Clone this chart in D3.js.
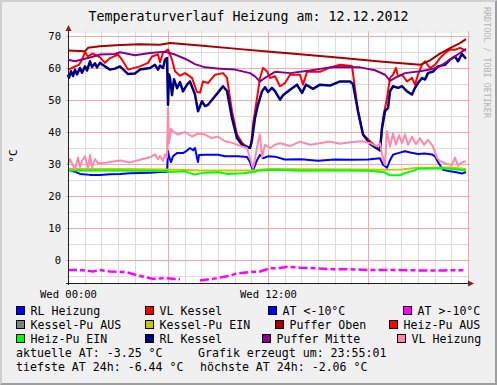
<!DOCTYPE html>
<html>
<head>
<meta charset="utf-8">
<script src="https://cdn.jsdelivr.net/npm/d3@7"></script>
<style>
body{margin:0;padding:0;background:#fff;}
text{font-family:"DejaVu Sans Mono",monospace;}
</style>
</head>
<body>
<div id="plotdiv"></div>
<script>
var title = "Temperaturverlauf Heizung am: 12.12.2012";
var yTicks = [0,10,20,30,40,50,60,70];
var xTicks = [0,12];
var xTickLabels = ["Wed 00:00","Wed 12:00"];

// [Stunde, °C]
var rlHeizung = [[0,28.2],[0.42,27.6],[0.72,26.9],[1.32,26.6],[1.92,26.6],[2.52,26.8],[3.12,26.9],[3.72,27.1],[4.32,27.2],[4.92,27.3],[5.52,27.5],[5.94,27.6],[6.0,34.0],[6.06,32.4],[6.18,30.6],[6.3,32.4],[6.54,33.4],[6.9,33.4],[7.14,34.2],[7.32,35.0],[7.5,34.3],[7.62,35.0],[7.74,31.9],[7.8,30.6],[7.86,32.8],[8.22,32.9],[9.0,32.9],[9.42,32.4],[10.2,32.4],[10.74,32.2],[10.92,30.6],[11.1,27.9],[11.34,31.2],[11.52,32.9],[11.7,31.8],[12.0,32.4],[12.42,32.3],[13.0,31.4],[14.0,31.5],[15.0,31.0],[16.0,31.4],[17.0,31.3],[18.0,31.4],[18.72,31.8],[18.9,29.8],[19.14,28.8],[19.32,31.2],[19.5,32.9],[19.8,33.4],[20.22,34.0],[20.6,33.5],[21.0,33.1],[21.4,33.3],[21.84,33.0],[22.02,32.4],[22.2,30.6],[22.5,28.2],[22.92,27.7],[23.3,27.4],[23.64,27.0],[23.88,27.5]];

var vlKessel = [[0,59.5],[0.24,60.0],[0.42,60.5],[0.66,61.0],[0.84,62.6],[1.02,65.0],[1.2,63.6],[1.44,64.5],[1.62,64.2],[1.92,63.3],[2.22,61.6],[2.52,63.1],[3.0,64.2],[3.24,62.6],[3.6,59.5],[4.32,60.5],[4.8,61.6],[5.04,63.6],[5.4,64.2],[5.52,61.8],[5.7,64.7],[6.0,65.8],[6.24,62.6],[6.42,59.0],[6.72,57.6],[7.02,58.4],[7.44,56.9],[7.74,52.5],[7.92,52.3],[8.1,55.8],[8.4,55.3],[8.82,57.9],[9.3,58.4],[9.54,56.9],[9.84,46.5],[10.14,39.2],[10.44,36.6],[10.8,35.0],[10.98,35.6],[11.1,42.3],[11.34,50.6],[11.52,56.9],[11.7,60.0],[11.94,59.0],[12.12,56.9],[12.42,57.4],[12.72,54.3],[13.02,55.3],[13.32,57.9],[13.92,57.9],[14.1,54.8],[14.34,58.8],[15.12,58.8],[15.6,59.9],[16.32,61.0],[17.04,60.6],[17.4,46.5],[17.7,39.2],[18.12,37.1],[18.72,34.4],[18.9,44.4],[19.14,50.6],[19.32,56.9],[19.5,57.9],[19.68,60.0],[19.8,57.4],[20.04,57.9],[20.34,55.8],[20.64,56.9],[20.82,54.8],[21.0,57.9],[21.24,61.0],[21.42,62.1],[21.72,60.0],[22.02,61.0],[22.32,63.1],[22.62,64.7],[22.92,65.7],[23.22,65.7],[23.52,66.3],[23.88,65.4]];

var atHoch = [[0,-3.1],[0.9,-3.2],[1.5,-3.6],[1.92,-3.1],[2.52,-3.6],[3.5,-3.8],[4.1,-4.7],[4.7,-5.4],[5.1,-5.9],[5.9,-5.7],[6.72,-6.0],[6.82,null],[7.92,-6.4],[8.92,-5.7],[9.72,-4.9],[10.12,-4.2],[10.92,-3.8],[11.52,-3.6],[12.12,-2.6],[12.72,-2.5],[13.22,-2.1],[13.92,-2.4],[14.92,-2.6],[15.92,-2.9],[16.92,-2.9],[17.92,-3.1],[19.92,-3.1],[20.92,-3.25],[22.5,-3.25],[23.72,-3.2]];

var kesselPuEin = [[0,28.4],[3,28.4],[6,28.3],[8,28.0],[11,28.0],[12,28.4],[18,28.3],[19,28.2],[20,28.3],[21,28.8],[23,28.9],[23.88,28.4]];

var pufferOben = [[0,65.5],[0.72,65.3],[1.02,65.2],[1.2,66.3],[1.92,66.8],[3.12,67.2],[4.32,67.4],[5.52,67.3],[6.12,67.8],[7.92,67.0],[10.32,65.9],[12.12,65.1],[13.92,64.3],[16.32,63.2],[18.72,62.0],[21.12,61.0],[21.72,62.4],[22.32,64.5],[22.92,66.2],[23.52,67.8],[23.88,69.0]];

var heizPuEin = [[0,28.0],[2,28.0],[4,27.9],[5.9,27.8],[6.1,27.5],[7.0,27.7],[7.6,26.7],[8.2,27.3],[9.0,27.4],[9.6,26.9],[10.5,27.1],[11.2,27.6],[11.5,28.0],[12.5,28.2],[14,27.9],[16,28.0],[18,27.9],[19.0,27.4],[19.3,26.5],[19.9,26.5],[20.3,27.3],[20.8,28.0],[21.0,28.5],[22,28.6],[22.6,28.7],[23.3,28.3],[23.88,28.0]];

var rlKessel = [[0,57.9],[0.06,56.9],[0.18,59.0],[0.3,57.5],[0.42,59.5],[0.54,58.0],[0.72,60.0],[0.84,58.5],[1.02,60.5],[1.14,59.2],[1.32,62.1],[1.44,60.3],[1.62,61.5],[1.74,60.2],[1.92,61.6],[2.22,60.5],[2.52,59.5],[2.82,59.8],[3.12,60.5],[3.42,59.0],[3.6,58.1],[4.02,58.3],[4.32,59.5],[4.92,60.0],[5.22,61.0],[5.4,59.5],[5.52,60.8],[5.7,60.0],[5.82,62.6],[5.94,63.1],[6.0,48.5],[6.06,58.0],[6.12,56.9],[6.24,51.5],[6.36,56.5],[6.54,53.7],[6.72,55.6],[6.9,52.7],[7.14,54.8],[7.32,55.8],[7.62,51.7],[7.8,46.5],[8.04,49.6],[8.22,48.1],[8.4,48.5],[8.82,51.2],[9.0,52.3],[9.3,54.3],[9.54,52.8],[9.84,44.4],[10.14,38.1],[10.44,36.0],[10.92,35.0],[11.04,37.5],[11.22,44.4],[11.4,48.5],[11.64,52.7],[11.82,54.0],[12.0,52.5],[12.24,53.8],[12.42,52.8],[12.72,50.1],[12.9,51.5],[13.32,53.2],[13.74,54.8],[14.04,52.2],[14.28,54.8],[14.7,53.5],[15.12,54.8],[15.72,54.5],[16.32,55.8],[16.92,55.8],[17.1,55.0],[17.4,46.5],[17.7,39.2],[18.12,36.3],[18.72,34.2],[18.84,41.2],[19.02,46.5],[19.2,47.5],[19.32,52.7],[19.5,54.3],[19.8,53.8],[20.04,54.3],[20.34,52.7],[20.64,51.7],[20.82,53.8],[21.0,55.3],[21.24,56.9],[21.42,56.4],[21.6,58.4],[21.9,58.9],[22.2,60.5],[22.62,61.0],[22.92,62.6],[23.22,63.6],[23.4,62.1],[23.64,64.4],[23.88,62.9]];

var pufferMitte = [[0,62.6],[0.42,62.1],[1.32,63.3],[1.92,64.2],[2.82,64.4],[3.12,64.9],[4.02,64.0],[4.92,64.7],[5.82,65.1],[6.42,64.2],[7.02,62.9],[7.62,61.2],[8.22,60.2],[9.12,59.8],[10.02,59.5],[10.92,58.4],[11.22,57.4],[11.52,55.8],[11.82,56.9],[12.42,58.8],[13.32,58.4],[14.52,59.2],[15.72,60.2],[16.62,60.3],[17.52,60.2],[18.42,59.3],[19.02,57.9],[19.32,56.0],[19.62,56.9],[20.22,58.4],[21.12,59.0],[21.72,59.5],[22.32,60.5],[22.92,62.6],[23.52,64.7],[23.88,66.0]];

var vlHeizung = [[0,29.8],[0.12,31.5],[0.24,30.2],[0.42,28.3],[0.6,32.0],[0.72,29.0],[0.84,31.0],[1.02,32.4],[1.2,28.5],[1.32,32.8],[1.44,29.0],[1.62,31.5],[1.8,30.2],[2.22,30.4],[2.52,30.6],[3.12,31.1],[3.72,30.5],[4.32,31.3],[4.92,32.1],[5.22,33.0],[5.4,31.5],[5.52,32.5],[5.7,31.0],[5.82,33.0],[5.94,32.1],[6.0,47.5],[6.06,36.5],[6.18,41.0],[6.3,40.2],[6.6,39.2],[7.02,40.0],[7.44,38.6],[7.8,39.5],[8.22,39.2],[8.64,38.1],[9.0,38.6],[9.42,37.1],[9.84,36.6],[10.44,35.5],[10.74,35.0],[10.92,31.9],[11.1,28.8],[11.22,31.5],[11.4,37.0],[11.52,39.2],[11.64,32.0],[11.82,36.0],[12.12,35.0],[12.42,36.0],[12.72,36.5],[13.32,35.6],[13.92,37.0],[14.52,36.0],[15.12,36.5],[15.72,37.0],[16.32,36.3],[16.92,36.8],[17.7,37.1],[18.12,36.5],[18.54,35.5],[18.72,36.5],[18.84,32.9],[19.02,29.8],[19.14,40.2],[19.32,35.5],[19.5,39.5],[19.68,36.0],[19.86,39.0],[20.04,36.5],[20.22,39.2],[20.4,36.0],[20.64,38.5],[20.88,36.2],[21.12,38.0],[21.36,36.0],[21.6,37.5],[21.9,35.5],[22.14,31.9],[22.32,30.9],[22.74,30.0],[23.04,29.7],[23.22,32.0],[23.4,29.5],[23.64,30.5],[23.88,30.9]];

var legendLabels = ["RL Heizung","VL Kessel","AT <-10°C","AT >-10°C",
	"Kessel-Pu AUS","Kessel-Pu EIN","Puffer Oben","Heiz-Pu AUS",
	"Heiz-Pu EIN","RL Kessel","Puffer Mitte","VL Heizung"];
var legendColors = ["#0000FF","#FF0000","#0000FF","#FF00FF",
	"#808080","#C8C800","#AA0000","#FF0000",
	"#00FF00","#000080","#880088","#FF88AA"];
var infoLines = [["aktuelle AT: -3.25 °C","Grafik erzeugt um: 23:55:01"],
	["tiefste AT 24h: -6.44 °C","höchste AT 24h: -2.06 °C"]];

function drawChart()
{
	var width = 497;
	var height = 385;
	var left = 68, right = 468, top = 33, bottom = 283;
	var minorColor = "#dcdcdc";
	var majorColor = "#f3aaaa";

	var svg = d3.select("#plotdiv")
		.append("svg")
		.attr("width",width)
		.attr("height",height);

	// rahmen
	svg.append("rect").attr("width",width).attr("height",height).attr("fill","#CFCFCF");
	svg.append("path")
		.attr("d","M"+width+",0 L"+width+","+height+" L0,"+height+" L2,"+(height-2)+" L"+(width-2)+","+(height-2)+" L"+(width-2)+",2 Z")
		.attr("fill","#9E9E9E");
	svg.append("rect").attr("x",2).attr("y",2).attr("width",width-4).attr("height",height-4).attr("fill","#F0F0F0");

	var x = d3.scaleLinear().domain([0,24]).range([left,right]);
	var y = d3.scaleLinear().domain([-7.19,70.94]).range([bottom,top]);

	svg.append("rect")
		.attr("x",left).attr("y",top)
		.attr("width",right-left).attr("height",bottom-top)
		.attr("fill","#ffffff");

	// gitter
	var g = svg.append("g");
	var hours = d3.range(0,25,1);
	var vals = d3.range(-5,71,5);
	g.selectAll("line.hmin")
		.data(vals.filter(function(v){return v % 10 != 0;}))
		.enter().append("line")
		.attr("x1",left-2).attr("x2",right+2)
		.attr("y1",function(v){return Math.round(y(v))+0.5;})
		.attr("y2",function(v){return Math.round(y(v))+0.5;})
		.attr("stroke",minorColor);
	g.selectAll("line.vmin")
		.data(hours.filter(function(h){return h % 6 != 0;}))
		.enter().append("line")
		.attr("y1",top-2).attr("y2",bottom+2)
		.attr("x1",function(h){return Math.round(x(h))+0.5;})
		.attr("x2",function(h){return Math.round(x(h))+0.5;})
		.attr("stroke",minorColor);
	g.selectAll("line.hmaj")
		.data(vals.filter(function(v){return v % 10 == 0;}))
		.enter().append("line")
		.attr("x1",left-2).attr("x2",right+2)
		.attr("y1",function(v){return Math.round(y(v))+0.5;})
		.attr("y2",function(v){return Math.round(y(v))+0.5;})
		.attr("stroke",majorColor);
	g.selectAll("line.vmaj")
		.data(hours.filter(function(h){return h % 6 == 0;}))
		.enter().append("line")
		.attr("y1",top-2).attr("y2",bottom+2)
		.attr("x1",function(h){return Math.round(x(h))+0.5;})
		.attr("x2",function(h){return Math.round(x(h))+0.5;})
		.attr("stroke",majorColor);

	// achsen beschriftung
	var yAxis = svg.append("g")
		.attr("transform","translate("+left+",0)")
		.call(d3.axisLeft(y).tickValues(yTicks).tickSize(0).tickPadding(7));
	var xAxis = svg.append("g")
		.attr("transform","translate(0,"+bottom+")")
		.call(d3.axisBottom(x).tickValues(xTicks).tickSize(0).tickPadding(7.5)
			.tickFormat(function(d,i){return xTickLabels[i];}));
	[yAxis,xAxis].forEach(function(a){
		a.select(".domain").remove();
		a.selectAll("text")
			.attr("font-family","DejaVu Sans Mono")
			.attr("font-size","10.5px")
			.attr("fill","#000");
	});

	// linien
	var line = d3.line()
		.defined(function(d){return d[1] !== null;})
		.x(function(d){return x(d[0]);})
		.y(function(d){return y(d[1]);});
	var series = [
		{data:rlHeizung, color:"#0000FF", w:2},
		{data:vlKessel, color:"#FF0000", w:2},
		{data:atHoch, color:"#FF00FF", w:2.5, dash:"9,3,5,3"},
		{data:kesselPuEin, color:"#C8C800", w:2},
		{data:pufferOben, color:"#AA0000", w:2},
		{data:heizPuEin, color:"#00FF00", w:2},
		{data:rlKessel, color:"#000080", w:2.5},
		{data:pufferMitte, color:"#880088", w:2},
		{data:vlHeizung, color:"#FF88AA", w:2}
	];
	series.forEach(function(s){
		svg.append("path")
			.attr("d",line(s.data))
			.attr("fill","none")
			.attr("stroke",s.color)
			.attr("stroke-width",s.w)
			.attr("stroke-linejoin","round")
			.attr("stroke-dasharray",s.dash ? s.dash : null);
	});

	// achsen
	svg.append("line")
		.attr("x1",left-2).attr("x2",right+4)
		.attr("y1",bottom+0.5).attr("y2",bottom+0.5)
		.attr("stroke","#1F1F1F");
	svg.append("line")
		.attr("x1",left+0.5).attr("x2",left+0.5)
		.attr("y1",bottom+2).attr("y2",top-4)
		.attr("stroke","#1F1F1F");
	svg.append("path")
		.attr("d","M"+(right)+","+(bottom-2.5)+" L"+(right+6)+","+(bottom+0.5)+" L"+(right)+","+(bottom+3.5)+" Z")
		.attr("fill","#801F1F");
	svg.append("path")
		.attr("d","M"+(left-2.5)+","+(top-2)+" L"+(left+0.5)+","+(top-8)+" L"+(left+3.5)+","+(top-2)+" Z")
		.attr("fill","#801F1F");

	// titel
	svg.append("text")
		.attr("x",248.5).attr("y",21)
		.attr("text-anchor","middle")
		.attr("font-size","13.3px")
		.text(title);

	svg.append("text")
		.attr("transform","translate(17,156) rotate(-90)")
		.attr("text-anchor","middle")
		.attr("font-size","11px")
		.text("°C");

	svg.append("text")
		.attr("transform","translate(484,7) rotate(90)")
		.attr("font-size","8.4px")
		.attr("fill","#b4b4b4")
		.text("RRDTOOL / TOBI OETIKER");

	// legende
	var rowY = [311,325,339];
	var boxX = [[16,145,268,403],[16,145,275,389],[16,145,262,397]];
	var lg = svg.append("g");
	legendLabels.forEach(function(lbl,i){
		var r = Math.floor(i/4), c = i % 4;
		var bx = boxX[r][c], cy = rowY[r];
		lg.append("rect")
			.attr("x",bx+0.5).attr("y",cy-4.5)
			.attr("width",8).attr("height",8)
			.attr("fill",legendColors[i])
			.attr("stroke","#000");
		lg.append("text")
			.attr("x",bx+14.5).attr("y",cy+4)
			.attr("font-size","11.6px")
			.text(lbl);
	});
	var infoY = [353,367];
	var infoX = [[16,198],[16,200]];
	infoLines.forEach(function(row,r){
		row.forEach(function(t,c){
			lg.append("text")
				.attr("x",infoX[r][c]).attr("y",infoY[r]+4)
				.attr("font-size","11.6px")
				.attr("xml:space","preserve")
				.text(t);
		});
	});
}

drawChart();
</script>
</body>
</html>
